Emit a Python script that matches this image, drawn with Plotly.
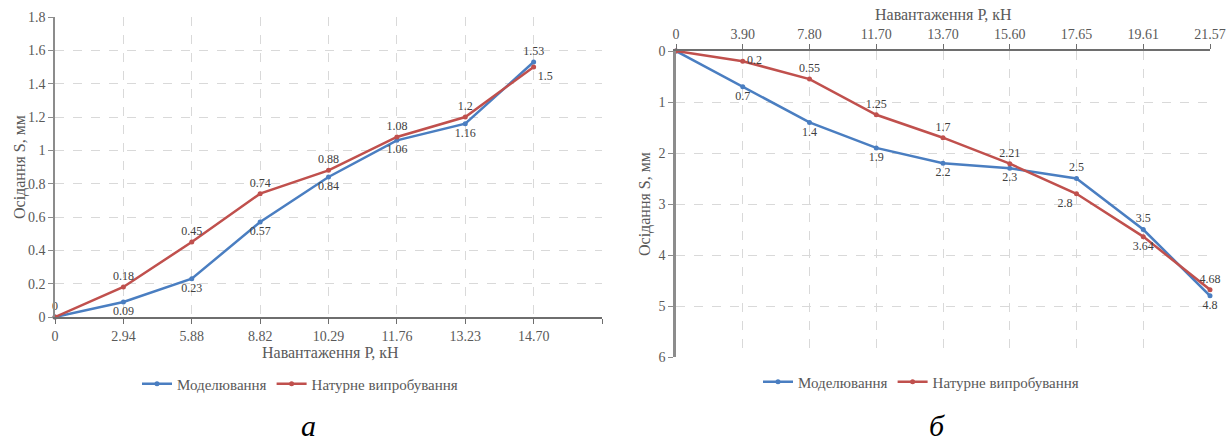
import plotly.graph_objects as go

# ---------------- data ----------------
load_a = ["0", "2.94", "5.88", "8.82", "10.29", "11.76", "13.23", "14.70"]
model_a = [0, 0.09, 0.23, 0.57, 0.84, 1.06, 1.16, 1.53]
field_a = [0, 0.18, 0.45, 0.74, 0.88, 1.08, 1.2, 1.5]

load_b = ["0", "3.90", "7.80", "11.70", "13.70", "15.60", "17.65", "19.61", "21.57"]
model_b = [0, 0.7, 1.4, 1.9, 2.2, 2.3, 2.5, 3.5, 4.8]
field_b = [0, 0.2, 0.55, 1.25, 1.7, 2.21, 2.8, 3.64, 4.68]

y_ticks_a = [0, 0.2, 0.4, 0.6, 0.8, 1, 1.2, 1.4, 1.6, 1.8]
y_ticks_b = [0, 1, 2, 3, 4, 5, 6]

name_model = "Моделювання"
name_field = "Натурне випробування"
x_title = "Навантаження Р, кН"
y_title = "Осідання S, мм"

# ---------------- style ----------------
BLUE = "#4A7EC1"
RED = "#C0504D"
FONT = "Liberation Serif"
GREY = "#595959"
W, H = 1227, 444

def fmt(v):
    return f"{v:g}"

def px_x(p):
    return p / W

def px_y(p):
    return 1 - p / H

# label positions (style)
pos_model_a = ["bottom center"] * 7 + ["top center"]
pos_field_a = ["top center"] * 7 + ["bottom right"]
txt_model_a = [""] + [fmt(v) for v in model_a[1:]]
txt_field_a = [fmt(v) for v in field_a]

pos_model_b = ["bottom center"] * 6 + ["top center", "top center", "bottom center"]
pos_field_b = ["top center", "middle right", "top center", "top center", "top center",
               "top center", "bottom left", "bottom center", "top center"]
txt_model_b = [""] + [fmt(v) for v in model_b[1:]]
txt_field_b = [""] + [fmt(v) for v in field_b[1:]]

xa = list(range(len(load_a)))
xb = list(range(len(load_b)))

fig = go.Figure()

def add(x, y, txt, pos, color, name, xaxis, yaxis, legend):
    fig.add_trace(go.Scatter(
        x=x, y=y, mode="lines+markers+text", name=name,
        text=txt, textposition=pos,
        textfont=dict(family=FONT, size=12, color="#404040"),
        line=dict(color=color, width=2.5),
        marker=dict(color=color, size=5),
        xaxis=xaxis, yaxis=yaxis, legend=legend, cliponaxis=False,
    ))

add(xa, model_a, txt_model_a, pos_model_a, BLUE, name_model, "x", "y", "legend")
add(xa, field_a, txt_field_a, pos_field_a, RED, name_field, "x", "y", "legend")
add(xb, model_b, txt_model_b, pos_model_b, BLUE, name_model, "x2", "y2", "legend2")
add(xb, field_b, txt_field_b, pos_field_b, RED, name_field, "x2", "y2", "legend2")

tickfont = dict(family=FONT, size=14, color=GREY)
legfont = dict(family=FONT, size=15, color=GREY)
grid = dict(showgrid=True, gridcolor="#D9D9D9", gridwidth=1, griddash="dash",
            automargin=False, zeroline=False)

fig.update_layout(
    xaxis=dict(domain=[px_x(55), px_x(602)], anchor="y",
               range=[0, len(load_a)],
               tickmode="array", tickvals=list(range(len(load_a) + 1)),
               ticktext=load_a + [""],
               tickfont=tickfont, ticks="outside", ticklen=5, tickcolor="#6E6E6E",
               showline=True, linecolor="#6E6E6E", linewidth=1.5, **grid),
    yaxis=dict(domain=[px_y(317), px_y(17)], anchor="x",
               range=[0, 1.8], tickmode="array", tickvals=y_ticks_a,
               ticktext=[fmt(v) for v in y_ticks_a],
               tickfont=tickfont, ticks="outside", ticklen=5, tickcolor="#8C8C8C",
               showline=True, linecolor="#8C8C8C", linewidth=1.5, **grid),
    xaxis2=dict(domain=[px_x(676), px_x(1210)], anchor="y2", side="top",
                range=[0, len(load_b) - 1],
                tickmode="array", tickvals=xb, ticktext=load_b,
                tickfont=tickfont, ticks="outside", ticklen=5, tickcolor="#6E6E6E",
                showline=True, linecolor="#6E6E6E", linewidth=1.5, **grid),
    yaxis2=dict(domain=[px_y(357), px_y(51)], anchor="x2",
                range=[6, 0], tickmode="array", tickvals=y_ticks_b,
                ticktext=[fmt(v) for v in y_ticks_b],
                tickfont=tickfont, ticks="outside", ticklen=5, tickcolor="#8C8C8C",
                showline=True, linecolor="#8C8C8C", linewidth=2.5, **grid),
    legend=dict(orientation="h", x=px_x(137), y=px_y(384), yanchor="middle", xanchor="left",
                font=legfont, itemwidth=30, bgcolor="rgba(0,0,0,0)"),
    legend2=dict(orientation="h", x=px_x(758), y=px_y(382), yanchor="middle", xanchor="left",
                 font=legfont, itemwidth=30, bgcolor="rgba(0,0,0,0)"),
    width=W, height=H,
    margin=dict(l=0, r=0, t=0, b=0),
    paper_bgcolor="white", plot_bgcolor="white",
    showlegend=True,
)

def note(text, x, y, size, color, angle=0, yanchor="middle"):
    fig.add_annotation(text=text, x=px_x(x), y=px_y(y), xref="paper", yref="paper",
                       xanchor="center", yanchor=yanchor,
                       showarrow=False, textangle=angle,
                       font=dict(family=FONT, size=size, color=color))

# axis titles
note(x_title, 330, 352, 16, GREY)
note(y_title, 20, 167, 16, GREY, -90)
note(x_title, 943, 15, 16, GREY)
note(y_title, 645, 204, 16, GREY, -90)
# captions
note("<i>а</i>", 308, 444, 30, "black", yanchor="bottom")
note("<i>б</i>", 937, 444, 30, "black", yanchor="bottom")

fig.write_html(
    "out.html",
    config={"displayModeBar": False},
    post_script="document.body.style.margin='0';document.body.style.overflow='hidden';",
)
